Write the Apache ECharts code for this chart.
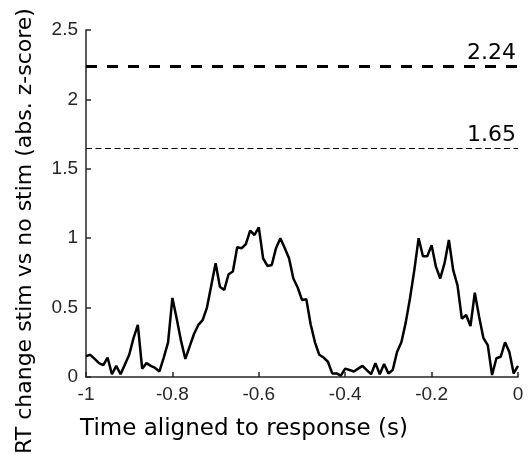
<!DOCTYPE html>
<html>
<head>
<meta charset="utf-8">
<script src="https://cdn.jsdelivr.net/npm/echarts@6/dist/echarts.min.js"></script>
<style>
  html, body { margin: 0; padding: 0; background: #fff; }
  #main { width: 530px; height: 454px; }
</style>
</head>
<body>
<div id="main"></div>
<script>
// time points, -1 s to 0 s in steps of 0.01
var times = [];
for (var i = 0; i <= 100; i++) times.push(+(-1 + i * 0.01).toFixed(2));

// RT change
var rtChange = [
  0.15, 0.16, 0.13, 0.10, 0.086, 0.14, 0.02, 0.08, 0.02, 0.09,
  0.16, 0.28, 0.375, 0.06, 0.10, 0.08, 0.065, 0.04, 0.14, 0.25,
  0.57, 0.42, 0.26, 0.13, 0.22, 0.31, 0.375, 0.41, 0.50, 0.66,
  0.82, 0.65, 0.627, 0.74, 0.76, 0.935, 0.927, 0.958, 1.054, 1.023,
  1.078, 0.855, 0.80, 0.807, 0.93, 1.0, 0.93, 0.855, 0.71, 0.645,
  0.555, 0.56, 0.38, 0.25, 0.16, 0.14, 0.11, 0.026, 0.026, 0.01,
  0.06, 0.05, 0.04, 0.06, 0.08, 0.05, 0.02, 0.10, 0.02, 0.094,
  0.026, 0.05, 0.18, 0.25, 0.39, 0.567, 0.77, 1.0, 0.87, 0.87,
  0.95, 0.795, 0.71, 0.82, 0.987, 0.77, 0.66, 0.42, 0.447, 0.367,
  0.607, 0.434, 0.28, 0.23, 0.014, 0.135, 0.146, 0.25, 0.18, 0.026,
  0.08
];

// significance thresholds
var thresholds = [2.24, 1.65];
var thresholdWidths = [3, 1];
var thresholdDash = [[11, 10], [6, 3.5]];

var xTicks = [-1, -0.8, -0.6, -0.4, -0.2, 0];
var yTicks = [0, 0.5, 1, 1.5, 2, 2.5];

var font = 'DejaVu Sans';
var tickFont = 'Liberation Sans';
var axisColor = '#262626';

var myChart = echarts.init(document.getElementById('main'));

var lineData = times.map(function (t, i) { return [t, rtChange[i]]; });

var option = {
  animation: false,
  backgroundColor: '#fff',
  grid: { left: 86, right: 12, top: 30, bottom: 77 },
  graphic: [
    {
      type: 'text', left: null, x: 244, y: 429,
      style: {
        text: 'Time aligned to response (s)', fontFamily: font, fontSize: 23,
        fill: '#000', align: 'center', verticalAlign: 'middle'
      }
    },
    {
      type: 'text', x: 25, y: 231, rotation: Math.PI / 2,
      style: {
        text: 'RT change stim vs no stim (abs. z-score)', fontFamily: font, fontSize: 22,
        fill: '#000', align: 'center', verticalAlign: 'middle'
      }
    }
  ],
  xAxis: {
    type: 'value',
    min: -1, max: 0, interval: 0.2,
    axisLine: { show: true, onZero: false, lineStyle: { color: axisColor, width: 1.5 } },
    axisTick: { show: true, inside: true, length: 5, lineStyle: { color: axisColor, width: 1.5 } },
    axisLabel: {
      fontFamily: tickFont, fontSize: 19, color: '#262626', margin: 8,
      formatter: function (v) { return xTicks.indexOf(+v.toFixed(1)) >= 0 ? String(+v.toFixed(1)) : ''; }
    },
    splitLine: { show: false }
  },
  yAxis: {
    type: 'value',
    min: 0, max: 2.5, interval: 0.5,
    axisLine: { show: true, onZero: false, lineStyle: { color: axisColor, width: 1.5 } },
    axisTick: { show: true, inside: true, length: 5, lineStyle: { color: axisColor, width: 1.5 } },
    axisLabel: {
      fontFamily: tickFont, fontSize: 19, color: '#262626', margin: 8,
      formatter: function (v) { return yTicks.indexOf(+v.toFixed(1)) >= 0 ? String(+v.toFixed(1)) : ''; }
    },
    splitLine: { show: false }
  },
  series: [{
    type: 'line',
    data: lineData,
    symbol: 'none',
    lineStyle: { color: '#000', width: 2.5 },
    markLine: {
      silent: true,
      symbol: 'none',
      data: thresholds.map(function (v, k) {
        return {
          yAxis: v,
          lineStyle: { color: '#000', width: thresholdWidths[k], type: thresholdDash[k] },
          label: {
            show: true,
            position: 'insideEndTop',
            formatter: v.toFixed(2),
            fontFamily: font, fontSize: 22, color: '#000', distance: 2
          }
        };
      })
    }
  }]
};

myChart.setOption(option);
</script>
</body>
</html>
